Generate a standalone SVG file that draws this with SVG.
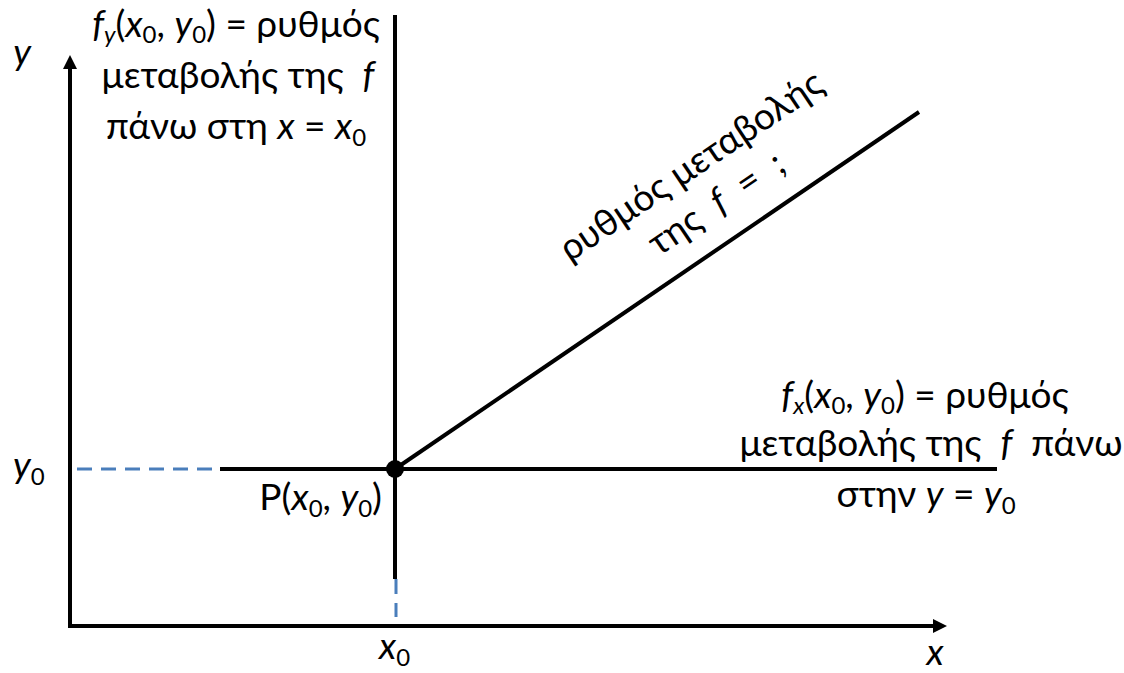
<svg xmlns="http://www.w3.org/2000/svg" width="1124" height="673" viewBox="0 0 1124 673">
<style>
text{font-family:Lato,"Noto Sans","Open Sans",sans-serif;font-size:37px;fill:#000}
.i{font-style:italic}
.s{font-size:24px}
.ax{stroke:#000;stroke-width:4;fill:none}
.ln{stroke:#000;stroke-width:4;fill:none}
.dash{stroke:#4a7ebb;stroke-width:3;stroke-dasharray:15 9;fill:none}
</style>
<defs>
<marker id="ah" viewBox="0 0 10 10" refX="0" refY="5" markerWidth="14" markerHeight="14" markerUnits="userSpaceOnUse" orient="auto">
<path d="M0,0 L10,5 L0,10 Z" fill="#000"/>
</marker>
</defs>
<g id="connectors">
<line class="ax" x1="70" y1="627" x2="70" y2="69" marker-end="url(#ah)"/>
<line class="ax" x1="68" y1="626" x2="933" y2="626" marker-end="url(#ah)"/>
<line class="dash" x1="77" y1="469" x2="216" y2="469"/>
<line class="ln" x1="220" y1="469" x2="997" y2="469"/>
<line class="ln" x1="395" y1="15" x2="395" y2="579"/>
<line class="dash" x1="396" y1="579" x2="396" y2="617"/>
<line class="ln" x1="395" y1="469" x2="919" y2="112"/>
</g>
<g id="point">
<circle cx="395" cy="469" r="9" fill="#000"/>
<text x="382" y="510" text-anchor="end">P(<tspan class="i">x</tspan><tspan class="s" dy="7">0</tspan><tspan dy="-7">, </tspan><tspan class="i">y</tspan><tspan class="s" dy="7">0</tspan><tspan dy="-7">)</tspan></text>
</g>
<g id="axis-labels">
<text x="22" y="65" text-anchor="middle" class="i">y</text>
<text x="935" y="665" text-anchor="middle" class="i">x</text>
<text x="13" y="478"><tspan class="i">y</tspan><tspan class="s" dy="7">0</tspan></text>
<text x="379" y="659"><tspan class="i">x</tspan><tspan class="s" dy="7">0</tspan></text>
</g>
<g id="label-fy">
<text x="236" y="37" text-anchor="middle"><tspan class="i">f</tspan><tspan class="s i" dy="6">y</tspan><tspan dy="-6">(</tspan><tspan class="i">x</tspan><tspan class="s" dy="6">0</tspan><tspan dy="-6">, </tspan><tspan class="i">y</tspan><tspan class="s" dy="6">0</tspan><tspan dy="-6">) = ρυθμός</tspan></text>
<text x="238" y="88" text-anchor="middle">μεταβολής της&#160; <tspan class="i">f</tspan></text>
<text x="236" y="139" text-anchor="middle">πάνω στη <tspan class="i">x</tspan> = <tspan class="i">x</tspan><tspan class="s" dy="7">0</tspan></text>
</g>
<g id="label-fx">
<text x="925" y="408" text-anchor="middle"><tspan class="i">f</tspan><tspan class="s i" dy="6">x</tspan><tspan dy="-6">(</tspan><tspan class="i">x</tspan><tspan class="s" dy="6">0</tspan><tspan dy="-6">, </tspan><tspan class="i">y</tspan><tspan class="s" dy="6">0</tspan><tspan dy="-6">) = ρυθμός</tspan></text>
<text x="931" y="456" text-anchor="middle">μεταβολής της&#160; <tspan class="i">f</tspan>&#160; πάνω</text>
<text x="926" y="507" text-anchor="middle">στην <tspan class="i">y</tspan> = <tspan class="i">y</tspan><tspan class="s" dy="7">0</tspan></text>
</g>
<g id="label-diagonal" transform="translate(698,176) rotate(-34)">
<text x="0" y="0" text-anchor="middle">ρυθμός μεταβολής</text>
<text x="0" y="45" text-anchor="middle">της&#160; <tspan class="i">f</tspan>&#160; =&#160; ;</text>
</g>
</svg>
